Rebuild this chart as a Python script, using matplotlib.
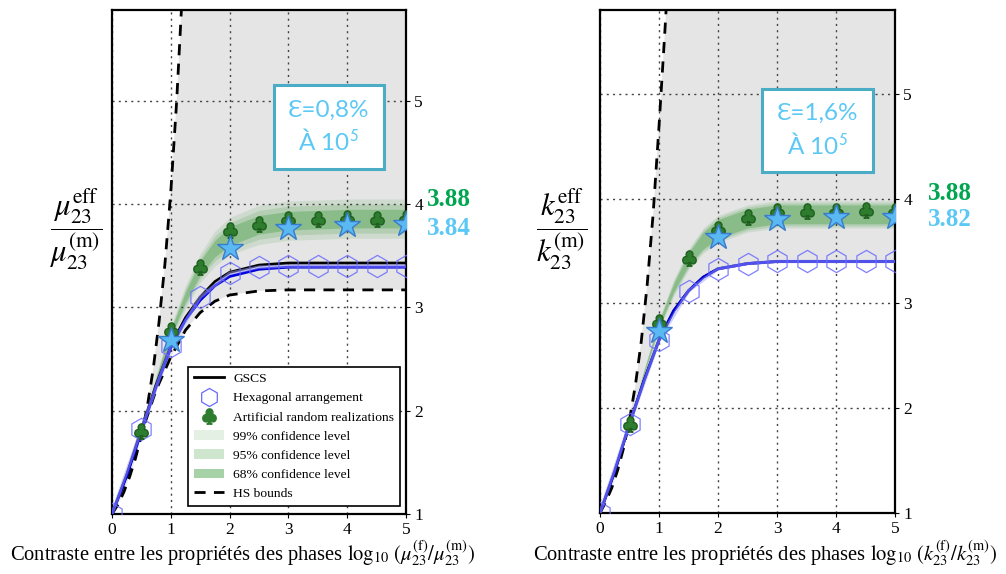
import matplotlib
matplotlib.use("Agg")
import matplotlib.pyplot as plt
from matplotlib.patches import Patch
from matplotlib.lines import Line2D

plt.rcParams['font.family'] = ['Liberation Serif', 'DejaVu Serif']
plt.rcParams['mathtext.fontset'] = 'stix'

# ---- data ----
x_curve = [0, 0.25, 0.5, 0.75, 1, 1.25, 1.5, 1.75, 2, 2.5, 3, 3.5, 4, 5]
x_hs_up = [0, 0.1, 0.2, 0.3, 0.4, 0.5, 0.6, 0.7, 0.8, 0.9, 1.0, 1.1, 1.2]
x_band = [0.4, 0.5, 0.75, 1, 1.25, 1.5, 1.75, 2, 2.5, 3, 3.5, 4, 4.5, 5]
x_hex = [0, 0.5, 1, 1.5, 2, 2.5, 3, 3.5, 4, 4.5, 5]
x_club = [0.5, 1, 1.5, 2, 2.5, 3, 3.5, 4, 4.5, 5]
x_star = [1, 2, 3, 4, 5]

# shear modulus mu_23
mu_gscs = [1, 1.38, 1.82, 2.25, 2.63, 2.90, 3.10, 3.25, 3.34, 3.41, 3.43, 3.43, 3.43, 3.43]
mu_blue = [1, 1.37, 1.80, 2.23, 2.61, 2.88, 3.07, 3.21, 3.30, 3.37, 3.39, 3.39, 3.39, 3.39]
mu_hs_low = [1, 1.35, 1.78, 2.20, 2.52, 2.78, 2.95, 3.06, 3.12, 3.16, 3.17, 3.17, 3.17, 3.17]
mu_hs_up = [1, 1.09, 1.21, 1.36, 1.54, 1.76, 2.04, 2.40, 2.86, 3.42, 4.12, 5.00, 6.10]
mu_band = [1.6, 1.8, 2.3, 2.75, 3.10, 3.38, 3.57, 3.69, 3.80, 3.84, 3.85, 3.86, 3.86, 3.86]
mu_hw99 = [0.01, 0.02, 0.04, 0.07, 0.11, 0.14, 0.17, 0.18, 0.19, 0.19, 0.19, 0.19, 0.19, 0.19]
mu_hw95 = [0.01, 0.015, 0.03, 0.05, 0.08, 0.10, 0.12, 0.13, 0.14, 0.14, 0.14, 0.14, 0.14, 0.14]
mu_hw68 = [0.005, 0.01, 0.02, 0.03, 0.05, 0.07, 0.08, 0.09, 0.09, 0.09, 0.09, 0.09, 0.09, 0.09]
mu_hex = [1.0, 1.82, 2.63, 3.10, 3.33, 3.39, 3.40, 3.40, 3.40, 3.40, 3.40]
mu_club = [1.80, 2.78, 3.39, 3.75, 3.81, 3.86, 3.86, 3.87, 3.86, 3.87]
mu_star = [2.68, 3.58, 3.77, 3.80, 3.81]

# bulk modulus k_23
k_gscs = [1, 1.40, 1.85, 2.27, 2.65, 2.93, 3.12, 3.25, 3.33, 3.38, 3.40, 3.40, 3.40, 3.40]
k_hs_up = [1, 1.11, 1.24, 1.41, 1.62, 1.89, 2.22, 2.64, 3.18, 3.85, 4.69, 5.60, 6.60]
k_band = [1.65, 1.85, 2.35, 2.80, 3.15, 3.42, 3.60, 3.71, 3.81, 3.85, 3.85, 3.85, 3.85, 3.85]
k_hw99 = [0.01, 0.02, 0.03, 0.05, 0.08, 0.10, 0.12, 0.13, 0.13, 0.13, 0.13, 0.13, 0.13, 0.13]
k_hw95 = [0.008, 0.015, 0.025, 0.04, 0.06, 0.08, 0.10, 0.11, 0.11, 0.11, 0.11, 0.11, 0.11, 0.11]
k_hw68 = [0.005, 0.01, 0.015, 0.025, 0.04, 0.06, 0.08, 0.09, 0.09, 0.09, 0.09, 0.09, 0.09, 0.09]
k_hex = [1.0, 1.85, 2.65, 3.12, 3.33, 3.38, 3.40, 3.40, 3.40, 3.40, 3.40]
k_club = [1.85, 2.82, 3.43, 3.71, 3.82, 3.88, 3.88, 3.88, 3.89, 3.88]
k_star = [2.74, 3.63, 3.81, 3.82, 3.82]

W, H = 1006, 574
fig = plt.figure(figsize=(W / 100, H / 100), dpi=100)

green = '#3d9b3d'
star_c = '#5ab8f2'
txt_blue = '#5bc8f5'


def panel(ax, gscs, blue, hs_low, hs_up, band, hw99, hw95, hw68, hexy, club, star, ytop):
    # grey region between the HS bounds
    low = hs_low if hs_low is not None else blue
    xs = x_hs_up + [x_curve[-1]] + x_curve[::-1]
    ys = hs_up + [hs_up[-1]] + low[::-1]
    ax.fill(xs, ys, color='#e5e5e5', lw=0, zorder=0)

    for hw, a in [(hw99, 0.14), (hw95, 0.18), (hw68, 0.34)]:
        ax.fill_between(x_band, [b - h for b, h in zip(band, hw)],
                        [b + h for b, h in zip(band, hw)],
                        color=green, alpha=a, lw=0, zorder=1)

    ax.plot(x_hs_up, hs_up, 'k--', lw=2, dashes=(4, 3), zorder=2)
    if hs_low is not None:
        ax.plot(x_curve, hs_low, 'k--', lw=2, dashes=(4, 3), zorder=2)
    ax.plot(x_curve, gscs, color='black', lw=2, zorder=3)
    ax.plot(x_curve, blue, color='#0000dd', lw=2, zorder=3)
    ax.plot(x_hex, hexy, color='#a0a0ff', lw=2.5, alpha=0.5, zorder=4)
    ax.plot(x_hex, hexy, 'h', ms=16, mfc='none', mec='#6a6aff', mew=0.9, alpha=0.85, zorder=5)
    ax.plot(x_club, club, marker=r'$\clubsuit$', ls='none', ms=11, color='#2e7d2e',
            mec='#1f5f1f', zorder=6)
    ax.plot(x_star, star, '*', ms=19, mfc=star_c, mec='#3a7ccc', mew=1, zorder=7)

    ax.set_xlim(0, 5)
    ax.set_ylim(1, ytop)
    ax.set_xticks([0, 1, 2, 3, 4, 5])
    ax.set_yticks([1, 2, 3, 4, 5])
    ax.yaxis.tick_right()
    ax.tick_params(labelsize=12.5, length=3, width=0.8, pad=3)
    ax.grid(True, ls=(0, (1.5, 3)), color='#444444', lw=1)
    for s in ax.spines.values():
        s.set_linewidth(1.6)


axL = fig.add_axes([112 / W, 1 - 514 / H, 294 / W, 504 / H])
panel(axL, mu_gscs, mu_blue, mu_hs_low, mu_hs_up, mu_band, mu_hw99, mu_hw95, mu_hw68,
      mu_hex, mu_club, mu_star, 5.88)
axR = fig.add_axes([600 / W, 1 - 513 / H, 295 / W, 503 / H])
panel(axR, k_gscs, k_gscs, None, k_hs_up, k_band, k_hw99, k_hw95, k_hw68,
      k_hex, k_club, k_star, 5.80)

# legend (left panel only)
handles = [
    Line2D([], [], color='black', lw=2),
    Line2D([], [], marker='h', ls='none', ms=13, mfc='none', mec='#6a6aff', mew=0.9),
    Line2D([], [], marker=r'$\clubsuit$', ls='none', ms=11, color='#2e7d2e'),
    Patch(color=green, alpha=0.14, lw=0),
    Patch(color=green, alpha=0.25, lw=0),
    Patch(color=green, alpha=0.45, lw=0),
    Line2D([], [], color='black', lw=2, ls='--', dashes=(4, 3)),
]
labels = ['GSCS', 'Hexagonal arrangement', 'Artificial random realizations',
          '99% confidence level', '95% confidence level', '68% confidence level', 'HS bounds']
leg = axL.legend(handles, labels, loc='lower right', bbox_to_anchor=(0.99, 0.01),
                 fontsize=9.7, frameon=True, fancybox=False, framealpha=1,
                 edgecolor='black', handlelength=2.2, labelspacing=0.5,
                 borderpad=0.45, handletextpad=0.7, borderaxespad=0.2)
leg.get_frame().set_linewidth(1.2)
leg.set_zorder(10)

# annotation boxes
box = dict(boxstyle='square,pad=0.6', fc='white', ec='#4bacc6', lw=2.2)
for ax, txt, yc in [(axL, 'Ɛ=0,8%\nÀ 10$^{\\mathsf{5}}$', 4.75), (axR, 'Ɛ=1,6%\nÀ 10$^{\\mathsf{5}}$', 4.65)]:
    ax.text(3.69, yc, txt, ha='center', va='center', color=txt_blue,
            fontsize=17.5, family=['Lato', 'DejaVu Sans'], linespacing=1.35, bbox=box, zorder=11)

# values beside the panels
fig.text(427 / W, 1 - 200 / H, '3.88', color='#00a550', fontsize=18, fontweight='bold',
         va='center', ha='left')
fig.text(427 / W, 1 - 228 / H, '3.84', color=txt_blue, fontsize=18, fontweight='bold',
         va='center', ha='left')
fig.text(928 / W, 1 - 193 / H, '3.88', color='#00a550', fontsize=18, fontweight='bold',
         va='center', ha='left')
fig.text(928 / W, 1 - 219 / H, '3.82', color=txt_blue, fontsize=18, fontweight='bold',
         va='center', ha='left')

# y labels (fractions)
fig.text(76 / W, 1 - 230 / H, r'$\dfrac{\mu_{23}^{\mathrm{eff}}}{\mu_{23}^{(\mathrm{m})}}$',
         fontsize=22, ha='center', va='center')
fig.text(562 / W, 1 - 230 / H, r'$\dfrac{k_{23}^{\mathrm{eff}}}{k_{23}^{(\mathrm{m})}}$',
         fontsize=22, ha='center', va='center')

# x labels
fig.text(243 / W, 1 - 553 / H,
         r'Contraste entre les propriétés des phases $\log_{10}\,(\mu_{23}^{(\mathrm{f})}/\mu_{23}^{(\mathrm{m})})$',
         fontsize=14.8, ha='center', va='center')
fig.text(765 / W, 1 - 553 / H,
         r'Contraste entre les propriétés des phases $\log_{10}\,(k_{23}^{(\mathrm{f})}/k_{23}^{(\mathrm{m})})$',
         fontsize=14.8, ha='center', va='center')

fig.savefig('out.png', dpi=100)
